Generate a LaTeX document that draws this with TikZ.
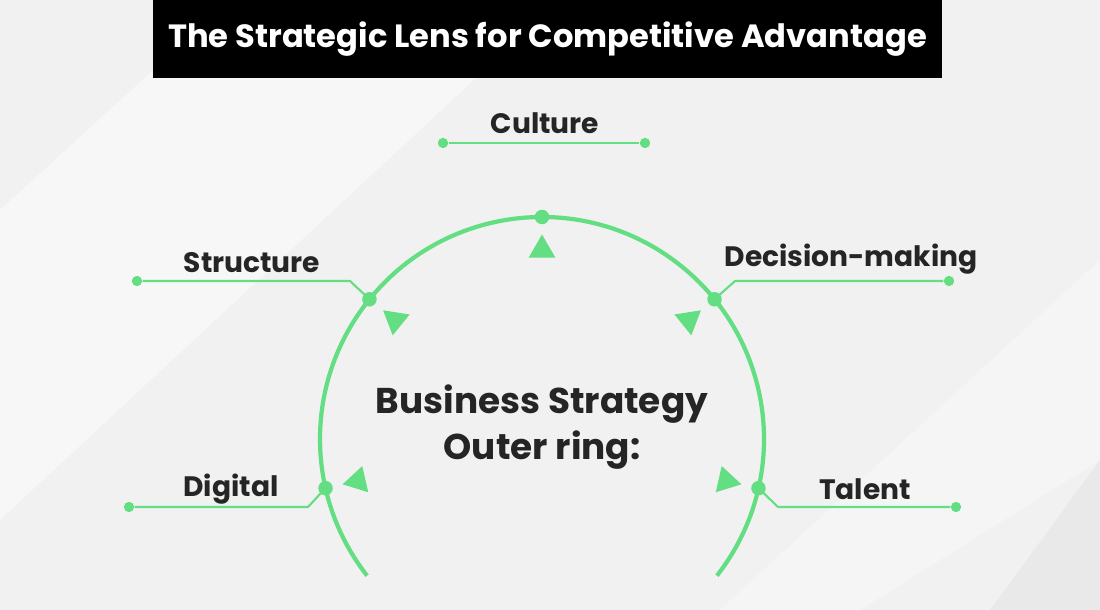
\documentclass[tikz,border=0pt]{standalone}
\usepackage{fontspec}
\setmainfont{Poppins}
\usepackage{tikz}
\usepackage{xcolor}
\usetikzlibrary{positioning, calc, shapes.geometric}

\definecolor{ringgreen}{HTML}{63DE82}
\definecolor{labelgray}{HTML}{252525}
\definecolor{bggray}{HTML}{F1F1F1}

\begin{document}
\begin{tikzpicture}[
    dot/.style={circle, fill=ringgreen, inner sep=0pt, minimum size=1mm},
    bigdot/.style={circle, fill=ringgreen, inner sep=0pt, minimum size=1.45mm},
    tri/.style={regular polygon, regular polygon sides=3, fill=ringgreen, inner sep=0pt, minimum size=3.1mm},
    lbl/.style={font=\bfseries\fontsize{8}{10}\selectfont, text=labelgray},
    link/.style={ringgreen, line width=0.6pt},
    ring/.style={ringgreen, line width=1.2pt}
]
    % background
    \fill[bggray] (0,0) rectangle (11,-6.1);
    \fill[white, opacity=0.45] (0,-2.1) -- (2.3,0) -- (5.6,0) -- (0,-5.2) -- cycle;
    \fill[white, opacity=0.35] (11,-2.6) -- (11,-4.6) -- (8.6,-6.1) -- (7.2,-6.1) -- cycle;
    \fill[black, opacity=0.03] (11,-4.6) -- (11,-6.1) -- (9.9,-6.1) -- cycle;
    \useasboundingbox (0,0) rectangle (11,-6.1);

    % title
    \node[fill=black, text=white, inner sep=0pt, minimum width=7.89cm, minimum height=0.78cm,
          font=\bfseries\fontsize{9.15}{11}\selectfont] (title) at (5.475,-0.39)
          {The Strategic Lens for Competitive Advantage};

    % ring
    \coordinate (c) at (5.42,-4.39);
    \draw[ring] ($(c)+(-38:2.22)$) arc[start angle=-38, end angle=218, radius=2.22];
    \node[lbl, font=\bfseries\fontsize{10.2}{13}\selectfont, align=center] (core) at (5.42,-4.27)
          {Business Strategy\\Outer ring:};

    % end points and elbows
    \node[dot] (cul-l) at (4.43,-1.43) {};
    \node[dot] (cul-r) at (6.45,-1.43) {};
    \node[dot] (str-end) at (1.37,-2.81) {};
    \coordinate (str-elb) at (3.50,-2.81);
    \node[dot] (dec-end) at (9.49,-2.81) {};
    \coordinate (dec-elb) at (7.35,-2.81);
    \node[dot] (dig-end) at (1.29,-5.07) {};
    \coordinate (dig-elb) at (3.08,-5.07);
    \node[dot] (tal-end) at (9.56,-5.07) {};
    \coordinate (tal-elb) at (7.78,-5.07);

    % points on the ring with their triangles
    \foreach \ang/\nm in {90/cul, 141/str, 39/dec, 192.8/dig, -12.8/tal} {
        \node[tri, rotate=\ang-90] (\nm-tri) at ($(c)+(\ang:1.89)$) {};
    }

    % connectors
    \draw[link] (cul-l) -- (cul-r);
    \draw[link] (str-end) -- (str-elb) -- ($(c)+(141:2.22)$);
    \draw[link] (dec-end) -- (dec-elb) -- ($(c)+(39:2.22)$);
    \draw[link] (dig-end) -- (dig-elb) -- ($(c)+(192.8:2.22)$);
    \draw[link] (tal-end) -- (tal-elb) -- ($(c)+(-12.8:2.22)$);
    \foreach \ang/\nm in {90/cul, 141/str, 39/dec, 192.8/dig, -12.8/tal} {
        \node[bigdot] (\nm) at ($(c)+(\ang:2.22)$) {};
    }
    \node[dot] at (cul-l) {};
    \node[dot] at (cul-r) {};
    \node[dot] at (str-end) {};
    \node[dot] at (dec-end) {};
    \node[dot] at (dig-end) {};
    \node[dot] at (tal-end) {};

    % labels
    \node[lbl] (cul-lbl) at (5.45,-1.23) {Culture};
    \node[lbl] (str-lbl) at (2.52,-2.63) {Structure};
    \node[lbl] (dec-lbl) at (8.51,-2.59) {Decision-making};
    \node[lbl] (dig-lbl) at (2.31,-4.89) {Digital};
    \node[lbl] (tal-lbl) at (8.65,-4.89) {Talent};
\end{tikzpicture}
\end{document}
